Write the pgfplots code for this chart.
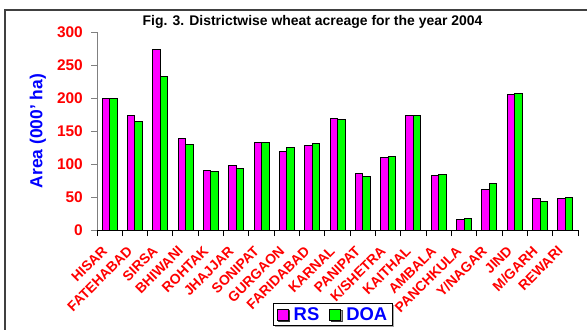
\documentclass[border=0pt]{standalone}
\usepackage{pgfplots}
\pgfplotsset{compat=1.18}
\usepackage{fontspec}
\setmainfont{Liberation Sans}
\usetikzlibrary{shadows}
\definecolor{rsmag}{RGB}{255,0,255}
\definecolor{doagreen}{RGB}{0,255,0}
\definecolor{tickred}{RGB}{255,0,0}
\definecolor{labblue}{RGB}{0,0,255}
\definecolor{framegray}{RGB}{64,64,64}
\begin{document}
\begin{tikzpicture}[x=1bp,y=1bp]
\useasboundingbox (0,0) rectangle (587,329);
\draw[framegray, line width=1.8bp] (5,-5) -- (5,319) -- (600,319);
\node[font=\bfseries\fontsize{14}{14}\selectfont] at (312.5,307) {Fig. 3. Districtwise wheat acreage for the year 2004};
\begin{axis}[
  at={(97bp,99bp)}, anchor=south west,
  scale only axis, width=481bp, height=198bp,
  xmin=-0.5, xmax=18.5, ymin=0, ymax=300,
  axis lines*=left,
  x axis line style={black, line width=1bp},
  y axis line style={gray, line width=1bp},
  tick align=outside,
  major tick length=6bp,
  ytick={0,50,...,300},
  ytick style={gray, line width=1bp},
  xtick={-0.5,0.5,...,18.5},
  xtick style={black, line width=1bp},
  xticklabels={},
  extra x ticks={0,1,...,18},
  extra x tick labels={HISAR,FATEHABAD,SIRSA,BHIWANI,ROHTAK,JHAJJAR,SONIPAT,GURGAON,FARIDABAD,KARNAL,PANIPAT,K/SHETRA,KAITHAL,AMBALA,PANCHKULA,Y/NAGAR,JIND,M/GARH,REWARI},
  extra x tick style={major tick length=0pt},
  xticklabel style={xshift=-5bp, yshift=-18.5bp, rotate=45, anchor=east, inner sep=0pt, text=tickred, font=\bfseries\fontsize{14}{14}\selectfont},
  yticklabel style={inner sep=0pt, xshift=-8bp, text=tickred, font=\bfseries\fontsize{15.5}{15.5}\selectfont},
  /pgf/number format/assume math mode=true,
  ylabel={Area (000' ha)},
  ylabel style={at={(axis description cs:-0.1227,0.5)}, anchor=center, text=labblue, font=\bfseries\fontsize{17.5}{17.5}\selectfont},
  ybar=0pt, bar width=7.5bp,
  legend columns=2,
  legend style={at={(axis description cs:0.4906,-0.4268)}, anchor=center, draw=black, line width=0.8bp, fill=white,
    font=\bfseries\fontsize{18.5}{18.5}\selectfont, text=labblue, inner xsep=3bp, inner ysep=1.5bp,
    drop shadow={shadow xshift=1.5bp, shadow yshift=-1.5bp, fill=gray, opacity=0.7},
    /tikz/every even column/.append style={column sep=8bp}},
  legend image code/.code={\draw[#1, line width=1bp] (0bp,-5.5bp) rectangle (11bp,5.5bp); \path (14bp,0bp);},
]
\addplot[fill=rsmag, draw=black, line width=1bp] coordinates {
(0,199) (1,174) (2,273) (3,139) (4,90) (5,97) (6,133) (7,119) (8,128) (9,169)
(10,85) (11,110) (12,173) (13,82) (14,16) (15,61) (16,205) (17,47) (18,48)};
\addlegendentry{RS}
\addplot[fill=doagreen, draw=black, line width=1bp] coordinates {
(0,200) (1,165) (2,232) (3,130) (4,89) (5,93) (6,133) (7,125) (8,131) (9,167)
(10,81) (11,112) (12,173) (13,84) (14,17) (15,71) (16,207) (17,43) (18,49)};
\addlegendentry{DOA}
\end{axis}
\end{tikzpicture}
\end{document}
